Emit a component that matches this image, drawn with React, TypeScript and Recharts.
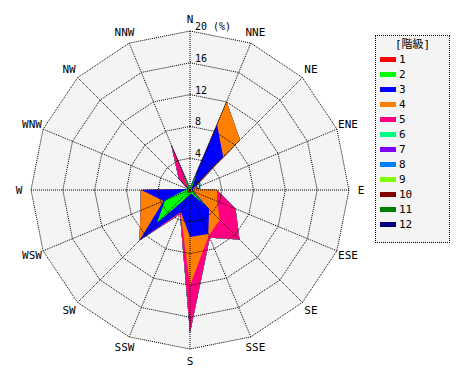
import React from 'react';
import { RadarChart, Radar, PolarGrid, PolarAngleAxis, PolarRadiusAxis, Legend } from 'recharts';

const directions = ['N', 'NNE', 'NE', 'ENE', 'E', 'ESE', 'SE', 'SSE', 'S', 'SSW', 'SW', 'WSW', 'W', 'WNW', 'NW', 'NNW'];

// per-class frequency (%) for each direction (N, NNE, ... NNW)
const class1 = [0.1, 0.2, 0.1, 0.1, 0.1, 0.1, 0.2, 0.2, 0.3, 0.3, 0.4, 0.3, 0.2, 0.1, 0.1, 0.2];
const class2 = [0.2, 2.3, 0.2, 0.1, 0.2, 0.2, 2.8, 0.3, 0.3, 0.7, 5.5, 3.1, 0.4, 0.2, 0.2, 2.4];
const class3 = [0.0, 6.4, 5.6, 0.2, 0.1, 0.2, 0.4, 5.5, 5.3, 2.0, 3.1, 0.2, 5.5, 0.0, 0.0, 0.0];
const class4 = [0.0, 3.1, 3.0, 0.1, 3.0, 3.2, 1.9, 0.2, 6.1, 0.1, 0.0, 3.1, 0.1, 0.0, 0.0, 0.0];
const class5 = [0.0, 0.0, 0.0, 0.0, 0.0, 2.5, 3.5, 0.3, 6.0, 0.2, 0.0, 0.0, 0.0, 0.0, 1.7, 3.6];
const class6 = [0, 0, 0, 0, 0, 0, 0, 0, 0, 0, 0, 0, 0, 0, 0, 0];
const class7 = [0, 0, 0, 0, 0, 0, 0, 0, 0, 0, 0, 0, 0, 0, 0, 0];
const class8 = [0, 0, 0, 0, 0, 0, 0, 0, 0, 0, 0, 0, 0, 0, 0, 0];
const class9 = [0, 0, 0, 0, 0, 0, 0, 0, 0, 0, 0, 0, 0, 0, 0, 0];
const class10 = [0, 0, 0, 0, 0, 0, 0, 0, 0, 0, 0, 0, 0, 0, 0, 0];
const class11 = [0, 0, 0, 0, 0, 0, 0, 0, 0, 0, 0, 0, 0, 0, 0, 0];
const class12 = [0, 0, 0, 0, 0, 0, 0, 0, 0, 0, 0, 0, 0, 0, 0, 0];

const classLabels = ['1', '2', '3', '4', '5', '6', '7', '8', '9', '10', '11', '12'];
const classColors = ['#ff0000', '#00ff00', '#0000ff', '#ff8000', '#ff0080', '#00ff80', '#8000ff', '#0080ff', '#80ff00', '#800000', '#008000', '#000080'];
const radiusTicks = [0, 4, 8, 12, 16, 20];
const radiusMax = 20;
const legendTitle = '[階級]';
const unitLabel = '(%)';

const classes = [class1, class2, class3, class4, class5, class6, class7, class8, class9, class10, class11, class12];

const data = directions.map((dir, i) => {
  const row: any = { dir, full: radiusMax };
  let sum = 0;
  classes.forEach((c, k) => {
    sum += c[i];
    row['c' + (k + 1)] = Math.round(sum * 100) / 100;
  });
  return row;
});

const FONT = '"DejaVu Sans Mono", "Noto Sans CJK JP", monospace';
const CX = 190;
const CY = 190;

const AngleTick = (props: any) => {
  const { x, y, payload } = props;
  const cx = props.cx ?? CX;
  const cy = props.cy ?? CY;
  const dx = x - cx;
  const dy = y - cy;
  const r = Math.hypot(dx, dy) || 1;
  const R = 171;
  return (
    <text x={cx + (dx / r) * R} y={cy + (dy / r) * R} textAnchor="middle" dominantBaseline="central" fontFamily={FONT} fontSize={11} fill="#000">
      {payload.value}
    </text>
  );
};

const RadiusTick = (props: any) => {
  const { x, y, payload } = props;
  const label = payload.value === radiusMax ? `${payload.value} ${unitLabel}` : String(payload.value);
  return (
    <text x={x + 5} y={y - 1} textAnchor="start" fontFamily={FONT} fontSize={10} fill="#000">
      {label}
    </text>
  );
};

const LegendBox = () => (
  <div
    style={{
      width: 75,
      height: 208,
      boxSizing: 'border-box',
      border: '1px dotted #000',
      background: '#f4f4f4',
      fontFamily: FONT,
      fontSize: 11,
      color: '#000',
      paddingTop: 1,
    }}
  >
    <div style={{ textAlign: 'center', height: 15, lineHeight: '15px' }}>{legendTitle}</div>
    {classLabels.map((l, i) => (
      <div key={l} style={{ display: 'flex', alignItems: 'center', height: 15 }}>
        <span style={{ display: 'inline-block', width: 16, height: 5, background: classColors[i], marginLeft: 4, marginRight: 3 }} />
        <span style={{ lineHeight: '15px' }}>{l}</span>
      </div>
    ))}
  </div>
);

export default function App() {
  const order = classes.map((_, k) => k).reverse();
  return (
    <div style={{ position: 'absolute', left: 0, top: 0, width: 470, height: 380, background: '#fff' }}>
      <RadarChart
        width={470}
        height={380}
        data={data}
        cx={CX}
        cy={CY}
        outerRadius={159}
        startAngle={90}
        endAngle={-270}
        margin={{ top: 0, right: 0, bottom: 0, left: 0 }}
      >
        <Radar dataKey="full" fill="#f4f4f4" fillOpacity={1} stroke="none" dot={false} isAnimationActive={false} legendType="none" zIndex={50} />
        {order.map((k) => (
          <Radar
            key={k}
            dataKey={'c' + (k + 1)}
            name={classLabels[k]}
            fill={classColors[k]}
            fillOpacity={1}
            stroke="none"
            dot={false}
            isAnimationActive={false}
            zIndex={100 + (12 - k)}
          />
        ))}
        <PolarGrid gridType="polygon" stroke="#000" strokeOpacity={1} strokeDasharray="1 1" zIndex={500} {...({} as any)} />
        <PolarAngleAxis dataKey="dir" tick={<AngleTick />} tickLine={false} axisLine={false} zIndex={600} {...({} as any)} />
        <PolarRadiusAxis
          angle={90}
          domain={[0, radiusMax]}
          ticks={radiusTicks as any}
          tick={<RadiusTick />}
          tickLine={false}
          axisLine={false}
          type="number"
          zIndex={600}
          {...({} as any)}
        />
        <Legend
          layout="vertical"
          align="right"
          verticalAlign="top"
          content={() => <LegendBox />}
          wrapperStyle={{ position: 'absolute', left: 375, top: 35, width: 75, height: 208 }}
        />
      </RadarChart>
    </div>
  );
}
